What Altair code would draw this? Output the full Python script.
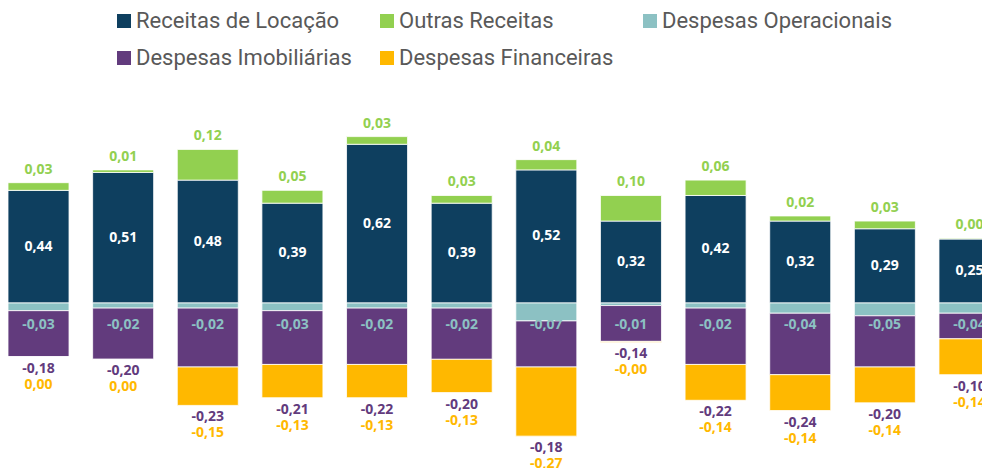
import altair as alt
import pandas as pd

periodos = ["P01", "P02", "P03", "P04", "P05", "P06", "P07", "P08", "P09", "P10", "P11", "P12"]
receitas_locacao = [0.44, 0.51, 0.48, 0.39, 0.62, 0.39, 0.52, 0.32, 0.42, 0.32, 0.29, 0.25]
outras_receitas = [0.03, 0.01, 0.12, 0.05, 0.03, 0.03, 0.04, 0.10, 0.06, 0.02, 0.03, 0.003]
despesas_operacionais = [-0.03, -0.02, -0.02, -0.03, -0.02, -0.02, -0.07, -0.01, -0.02, -0.04, -0.05, -0.04]
despesas_imobiliarias = [-0.18, -0.20, -0.23, -0.21, -0.22, -0.20, -0.18, -0.14, -0.22, -0.24, -0.20, -0.10]
despesas_financeiras = [0.00, 0.00, -0.15, -0.13, -0.13, -0.13, -0.27, -0.003, -0.14, -0.14, -0.14, -0.14]

series = ["Receitas de Locação", "Outras Receitas", "Despesas Operacionais",
          "Despesas Imobiliárias", "Despesas Financeiras"]
cores = ["#0E3F5F", "#92D050", "#8CC1C3", "#623B7D", "#FFB800"]


def fmt(v):
    return f"{v:.2f}".replace(".", ",")


seg_rows = []
lab_rows = []
for i, p in enumerate(periodos):
    vals = [receitas_locacao[i], outras_receitas[i], despesas_operacionais[i],
            despesas_imobiliarias[i], despesas_financeiras[i]]
    pos = 0.0
    neg = 0.0
    for k, (s, v) in enumerate(zip(series, vals)):
        if k < 2:
            y0 = pos
            pos += v
            y1 = pos
        else:
            y0 = neg
            neg += v
            y1 = neg
        seg_rows.append(dict(periodo=p, serie=s, y0=y0, y1=y1))
    lab_rows.append(dict(tipo="rec", periodo=p, y=receitas_locacao[i] / 2, txt=fmt(receitas_locacao[i])))
    lab_rows.append(dict(tipo="out", periodo=p, y=pos, txt=fmt(outras_receitas[i])))
    lab_rows.append(dict(tipo="ope", periodo=p, y=0.0, txt=fmt(despesas_operacionais[i])))
    lab_rows.append(dict(tipo="imo", periodo=p, y=neg, txt=fmt(despesas_imobiliarias[i])))
    lab_rows.append(dict(tipo="fin", periodo=p, y=neg, txt=fmt(despesas_financeiras[i])))

seg = pd.DataFrame(seg_rows)
labs = pd.DataFrame(lab_rows)

X = alt.X("periodo:N", sort=periodos, axis=None,
          scale=alt.Scale(range=[0, 992], paddingInner=0.279, paddingOuter=0, round=False))
YS = alt.Scale(domain=[-0.6445, 1.1523], nice=False, zero=False)

bars = alt.Chart(seg).mark_bar(stroke="white", strokeWidth=0.8).encode(
    x=X,
    y=alt.Y("y0:Q", scale=YS, axis=None),
    y2="y1:Q",
    color=alt.Color("serie:N",
                    scale=alt.Scale(domain=series, range=cores),
                    legend=alt.Legend(title=None, orient="none", legendX=105, legendY=2,
                                      direction="horizontal", columns=3,
                                      symbolType="square", symbolSize=196,
                                      symbolStrokeWidth=0,
                                      labelFont="Roboto", labelFontSize=22,
                                      labelColor="#595959", labelOffset=1,
                                      labelLimit=400, columnPadding=10,
                                      rowPadding=15, gridAlign="all", padding=0)),
)


def lbl(tipo, color, dy):
    return alt.Chart(labs).transform_filter(alt.datum.tipo == tipo).mark_text(
        font="Open Sans", fontWeight="bold", fontSize=14, color=color,
        baseline="middle", align="center", dy=dy,
    ).encode(x=X, y=alt.Y("y:Q", scale=YS, axis=None), text="txt:N")


chart = alt.layer(
    bars,
    lbl("rec", "#FFFFFF", 0),
    lbl("out", "#92D050", -13),
    lbl("ope", "#8CC1C3", 22),
    lbl("imo", "#623B7D", 12),
    lbl("fin", "#FFB800", 28),
).properties(
    width=974, height=460,
    autosize=alt.AutoSizeParams(type="none"),
    padding=0,
).configure_view(stroke=None)

chart.save("out.html", embed_options={"renderer": "svg", "actions": False})
